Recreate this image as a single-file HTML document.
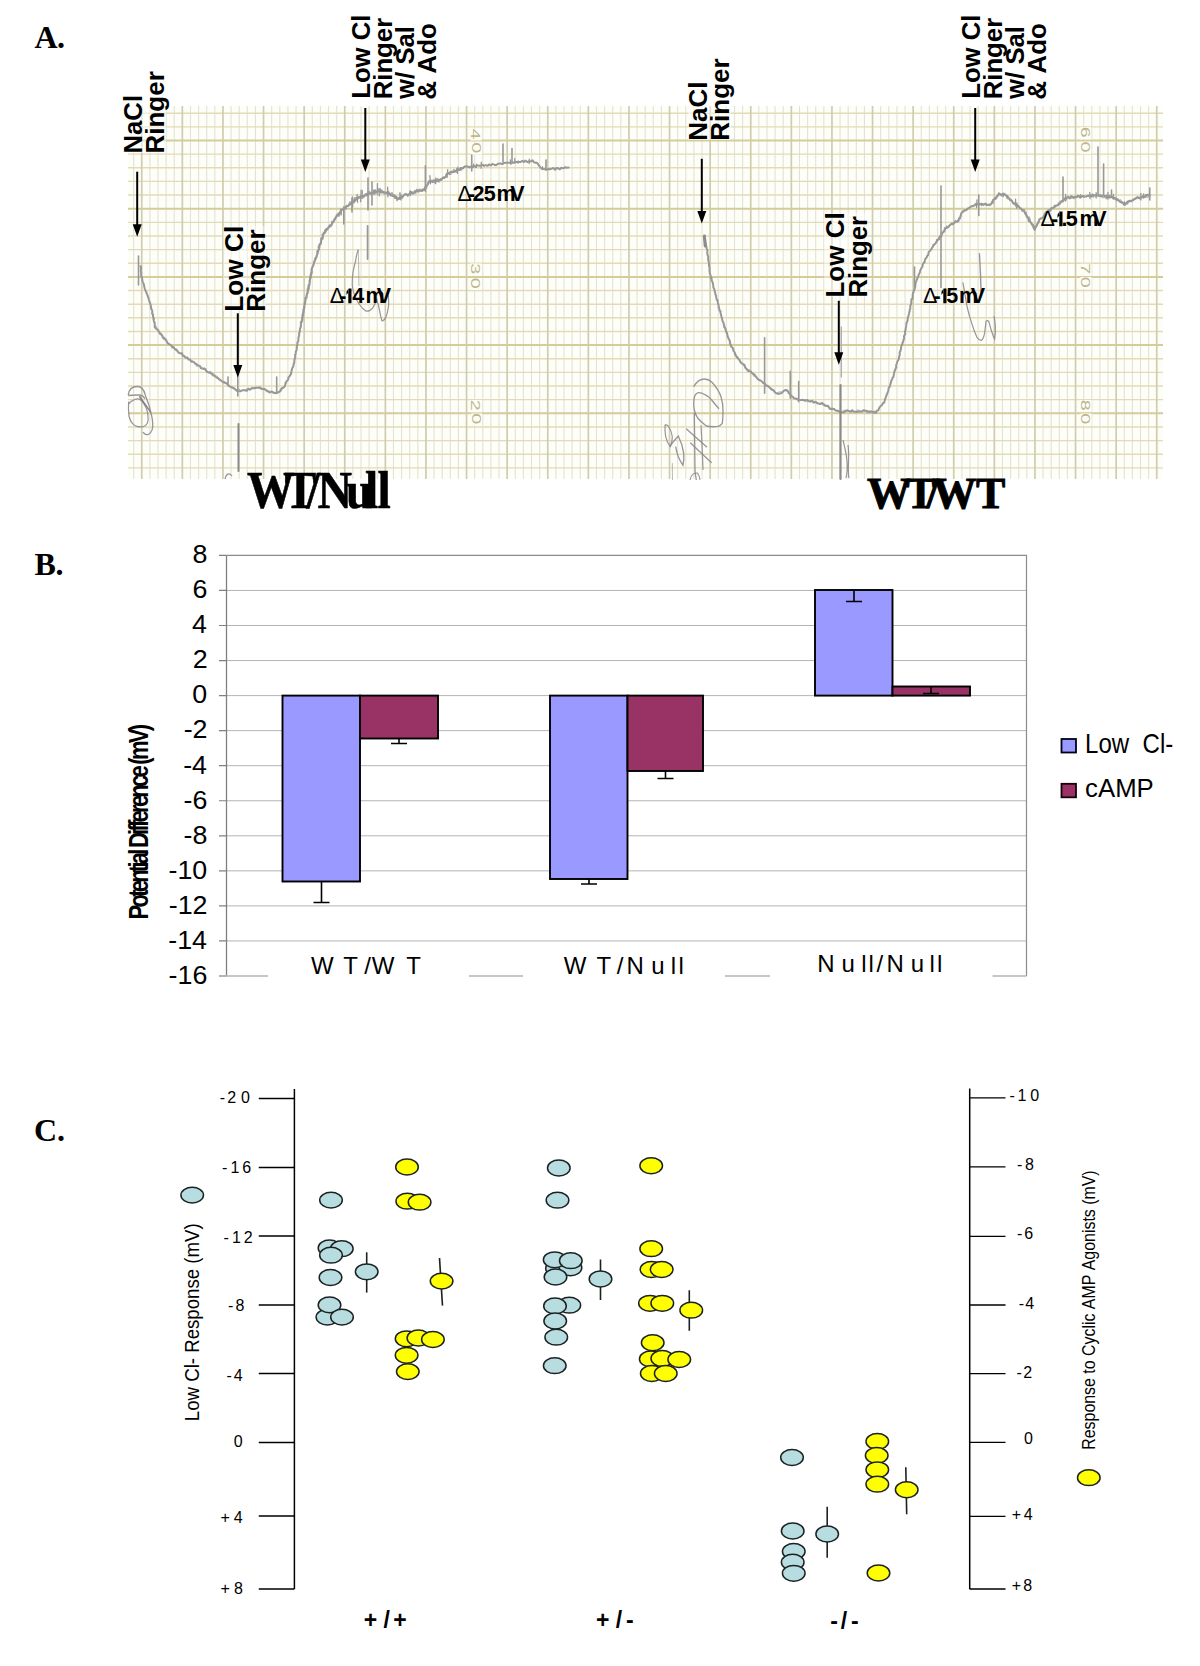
<!DOCTYPE html>
<html><head><meta charset="utf-8"><title>Figure</title>
<style>
html,body{margin:0;padding:0;background:#fff;width:1200px;height:1666px;overflow:hidden;}
svg{display:block;}
</style></head><body>
<svg width="1200" height="1666" viewBox="0 0 1200 1666">
<rect width="1200" height="1666" fill="#fff"/>
<rect x="128" y="106" width="1035" height="373" fill="#fefef8"/>
<path d="M133.63 106V479M149.87 106V479M157.99 106V479M166.11 106V479M174.23 106V479M190.47 106V479M198.59 106V479M206.71 106V479M214.83 106V479M231.07 106V479M239.19 106V479M247.31 106V479M255.43 106V479M271.67 106V479M279.79 106V479M287.91 106V479M296.03 106V479M312.27 106V479M320.39 106V479M328.51 106V479M336.63 106V479M352.87 106V479M360.99 106V479M369.11 106V479M377.23 106V479M393.47 106V479M401.59 106V479M409.71 106V479M417.83 106V479M434.07 106V479M442.19 106V479M450.31 106V479M458.43 106V479M474.67 106V479M482.79 106V479M490.91 106V479M499.03 106V479M515.27 106V479M523.39 106V479M531.51 106V479M539.63 106V479M555.87 106V479M563.99 106V479M572.11 106V479M580.23 106V479M596.47 106V479M604.59 106V479M612.71 106V479M620.83 106V479M637.07 106V479M645.19 106V479M653.31 106V479M661.43 106V479M677.67 106V479M685.79 106V479M693.91 106V479M702.03 106V479M718.27 106V479M726.39 106V479M734.51 106V479M742.63 106V479M758.87 106V479M766.99 106V479M775.11 106V479M783.23 106V479M799.47 106V479M807.59 106V479M815.71 106V479M823.83 106V479M840.07 106V479M848.19 106V479M856.31 106V479M864.43 106V479M880.67 106V479M888.79 106V479M896.91 106V479M905.03 106V479M921.27 106V479M929.39 106V479M937.51 106V479M945.63 106V479M961.87 106V479M969.99 106V479M978.11 106V479M986.23 106V479M1002.47 106V479M1010.59 106V479M1018.71 106V479M1026.83 106V479M1043.07 106V479M1051.19 106V479M1059.31 106V479M1067.43 106V479M1083.67 106V479M1091.79 106V479M1099.91 106V479M1108.03 106V479M1124.27 106V479M1132.39 106V479M1140.51 106V479M1148.63 106V479" stroke="#e3e2d6" stroke-width="1.1" fill="none"/>
<path d="M128 113.22H1163M128 126.86H1163M128 154.14H1163M128 167.78H1163M128 181.42H1163M128 195.06H1163M128 222.34H1163M128 235.98H1163M128 249.62H1163M128 263.26H1163M128 290.54H1163M128 304.18H1163M128 317.82H1163M128 331.46H1163M128 358.74H1163M128 372.38H1163M128 386.02H1163M128 399.66H1163M128 426.94H1163M128 440.58H1163M128 454.22H1163M128 467.86H1163" stroke="#e2dbb5" stroke-width="1.4" fill="none"/>
<path d="M141.75 106V479M182.35 106V479M222.95 106V479M263.55 106V479M304.15 106V479M344.75 106V479M385.35 106V479M425.95 106V479M466.55 106V479M507.15 106V479M547.75 106V479M588.35 106V479M628.95 106V479M669.55 106V479M710.15 106V479M750.75 106V479M791.35 106V479M831.95 106V479M872.55 106V479M913.15 106V479M953.75 106V479M994.35 106V479M1034.95 106V479M1075.55 106V479M1116.15 106V479M1156.75 106V479" stroke="#d0ccb2" stroke-width="1.7" fill="none"/>
<path d="M128 140.5H1163M128 208.7H1163M128 276.9H1163M128 345.1H1163M128 413.3H1163" stroke="#d4cc9a" stroke-width="2.0" fill="none"/>
<rect x="470.5" y="128.5" width="11" height="12" fill="#fefef8"/>
<text transform="translate(471,128.55) rotate(90) scale(1.45,1)" font-size="13.6" fill="#bdb68e" font-family="Liberation Sans, sans-serif">4</text>
<rect x="471" y="142.5" width="11" height="12" fill="#fefef8"/>
<text transform="translate(471.5,142.23) rotate(90) scale(1.45,1)" font-size="13.6" fill="#bdb68e" font-family="Liberation Sans, sans-serif">0</text>
<rect x="470.3" y="263.5" width="11" height="12" fill="#fefef8"/>
<text transform="translate(470.8,263.25) rotate(90) scale(1.45,1)" font-size="13.6" fill="#bdb68e" font-family="Liberation Sans, sans-serif">3</text>
<rect x="470.3" y="278" width="11" height="12" fill="#fefef8"/>
<text transform="translate(470.8,277.73) rotate(90) scale(1.45,1)" font-size="13.6" fill="#bdb68e" font-family="Liberation Sans, sans-serif">0</text>
<rect x="470.8" y="400.2" width="11" height="12" fill="#fefef8"/>
<text transform="translate(471.3,399.71) rotate(90) scale(1.45,1)" font-size="13.6" fill="#bdb68e" font-family="Liberation Sans, sans-serif">2</text>
<rect x="471.2" y="413.5" width="11" height="12" fill="#fefef8"/>
<text transform="translate(471.7,413.23) rotate(90) scale(1.45,1)" font-size="13.6" fill="#bdb68e" font-family="Liberation Sans, sans-serif">0</text>
<rect x="1080.2" y="127.3" width="11" height="12" fill="#fefef8"/>
<text transform="translate(1080.7,126.8) rotate(90) scale(1.45,1)" font-size="13.6" fill="#bdb68e" font-family="Liberation Sans, sans-serif">6</text>
<rect x="1080.2" y="141.8" width="11" height="12" fill="#fefef8"/>
<text transform="translate(1080.7,141.53) rotate(90) scale(1.45,1)" font-size="13.6" fill="#bdb68e" font-family="Liberation Sans, sans-serif">0</text>
<rect x="1080.5" y="263.8" width="11" height="12" fill="#fefef8"/>
<text transform="translate(1081,263.29) rotate(90) scale(1.45,1)" font-size="13.6" fill="#bdb68e" font-family="Liberation Sans, sans-serif">7</text>
<rect x="1080.5" y="277" width="11" height="12" fill="#fefef8"/>
<text transform="translate(1081,276.73) rotate(90) scale(1.45,1)" font-size="13.6" fill="#bdb68e" font-family="Liberation Sans, sans-serif">0</text>
<rect x="1080.5" y="400" width="11" height="12" fill="#fefef8"/>
<text transform="translate(1081,399.64) rotate(90) scale(1.45,1)" font-size="13.6" fill="#bdb68e" font-family="Liberation Sans, sans-serif">8</text>
<rect x="1080.5" y="413.5" width="11" height="12" fill="#fefef8"/>
<text transform="translate(1081,413.23) rotate(90) scale(1.45,1)" font-size="13.6" fill="#bdb68e" font-family="Liberation Sans, sans-serif">0</text>
<path d="M140.46 266.12 L141.03 267.68 L140.88 269.67 L140.81 271.27 L141.35 273.59 L141.11 274.36 L141.3 277.12 L141.97 277.33 L142.39 280.93 L142.72 281.89 L142.93 282.35 L143.82 284.1 L144.15 286.12 L144.62 288.23 L145.52 290.66 L146.16 291.92 L146.71 293.64 L147.25 294.54 L148.26 297.65 L148.7 298.74 L148.85 299.46 L149.26 300.81 L150.07 303.14 L150.57 304.78 L151.09 307.37 L150.75 307.77 L151.91 309.96 L152.39 311.48 L152.1 313.62 L153.09 314.57 L152.97 316.37 L153.95 318.88 L153.56 319.53 L153.83 320.82 L154.67 322.72 L154.76 324.93 L154.75 327.16 L155.7 328.25 L156.69 329.06 L157.77 330.02 L159.38 332.35 L159.84 333.77 L160.81 334.08 L162.36 335.86 L162.79 337.84 L163.92 337.67 L165.41 339.1 L166.06 339.87 L166.93 342.18 L168.09 343.5 L169.54 344.35 L171.35 345.55 L172.38 347.45 L173.41 347.17 L175.33 349.64 L176.18 349.38 L177.96 351.88 L178.91 352.9 L180.84 353.21 L181.85 353.21 L182.93 355.93 L184.43 356.41 L185.79 357.65 L187.4 357.59 L188.4 359.44 L189.66 359.46 L191.39 361.7 L192.77 361.56 L194.35 362.41 L194.97 363.54 L196.66 364.12 L197.9 365.54 L199.68 365.86 L200.97 368.18 L202.92 368.51 L204.15 369.17 L205.25 368.93 L206.69 371.54 L208.78 372.51 L209.78 372.71 L211.69 373.76 L213.13 375.47 L214.51 375.74 L216.61 377.63 L218.19 378.41 L219.56 379.76 L220.53 380.22 L222.3 381.52 L223.23 382.28 L225.27 382.92 L226.75 383.61 L228.39 385.14 L229.66 386.28 L232.07 387.76 L233.53 387.78 L235.21 389.16 L236.65 390.68 L238.52 391 L240.62 391.2 L242.88 390.13 L244.96 390.33 L246.79 390.84 L248.27 388.69 L250.07 389.69 L251.76 388.34 L254.32 388.32 L255.95 387.78 L257.76 387.77 L259.56 387.73 L261.94 389.13 L263.58 388.74 L264.92 389.28 L266.13 390.32 L268.27 391.7 L269.92 392.48 L271.32 391.49 L273.21 392.28 L274.77 393.13 L276.77 392.52 L278.19 392.44 L280.39 390.9 L281.31 388.71 L283.6 387.38 L284.41 386.78 L285.03 385.56 L285.74 382.59 L287.02 380.71 L288.26 379.47 L288.38 377.43 L289.43 376.57 L290.09 375.32 L290.9 374.27 L291.46 371.09 L291.96 369.38 L292.25 368.31 L293.47 366.06 L293.4 364.72 L294.03 363.4 L294.25 362.2 L294.35 360.61 L295.05 357.53 L295.35 357.13 L295 354.92 L295.68 354.17 L295.76 351.81 L296.45 350.6 L296.79 348.27 L296.84 346.08 L297.18 345.64 L297.45 343.77 L297.44 342.47 L298.38 340.95 L298.36 338.91 L298.52 337.49 L299.28 334.7 L299 333.22 L299.71 332.2 L299.99 329.06 L300.58 327.46 L300.91 326.01 L300.87 325.58 L301 322.65 L301.58 322.16 L302.13 320.45 L302.5 318.41 L302.79 315.96 L302.49 315.2 L302.83 313.96 L303.4 311.9 L303.85 310.33 L303.71 308.33 L304.42 307.73 L304.2 305.99 L305.09 303.69 L305.06 301.4 L305.46 300.29 L305.94 297.63 L306.66 296.89 L306.63 295.74 L307.19 293.41 L307.72 290.85 L308.03 289.83 L308.69 289.21 L308.46 286.68 L308.67 284.96 L309.54 284.26 L309.6 281.46 L309.69 280.43 L310.6 277.82 L310.81 275.97 L310.66 274.74 L311.38 273.3 L311.44 272.26 L311.56 270.85 L311.9 268.77 L312.52 266.56 L313.27 265.46 L313.67 263.83 L314.31 261.74 L314.57 261.1 L315.44 259.31 L316.14 257.89 L316.66 255.55 L317.09 255.12 L317.74 252.55 L317.79 252.18 L318.22 250.75 L319.28 247.43 L319.27 247.04 L319.81 244.19 L320.73 243.27 L321.16 241.11 L321.32 240.66 L321.47 238.12 L322.47 237.97 L323.16 234.8 L323.25 234.52 L324.39 233 L325.27 230.4 L326.34 228.96 L327.83 228.54 L328.98 226.44 L329.81 225.18 L331.47 225.38 L332.44 222.25 L332.65 222.62 L333.87 220.9 L334.66 218.96 L335.71 217.55 L336.68 215.37 L337.66 215.69 L338.37 213.77 L339.95 212.52 L340.64 210.9 L342.02 209.46 L343.46 209.89 L344.44 208.86 L345.5 206.81 L346.87 206.01 L348.56 205.61 L349.37 204.82 L351.15 203.56 L352.59 201.81 L354.04 201.76 L355.27 200.53 L356.71 198.81 L358.26 197.36 L359.54 197.37 L360.86 196.36 L362.94 196.11 L364.2 195.97 L366.13 193.98 L367.72 194.05 L369.2 193.3 L371.16 193.42 L372.51 193.27 L374.32 191.41 L375.62 192.45 L376.92 191.39 L378.34 190.59 L380.18 190.66 L381.67 192.53 L383.49 191.99 L385.41 192.37 L387.01 192.77 L388.45 191.9 L389.64 194.16 L390.55 195.4 L392 195.37 L393.36 196.31 L395.07 196.33 L396.7 197.95 L397.72 199.2 L399.18 197.79 L400.99 197.55 L402.28 197.08 L403.87 194.89 L405.41 194.17 L406.93 194.81 L408.7 194.58 L410.57 192.37 L412.34 193.64 L413.19 193.04 L415.06 191.67 L417.08 190.69 L418.3 191.75 L420.04 190.5 L421.82 190.87 L423.1 189.15 L424.7 189.51 L425.3 187.12 L426.5 185.69 L427.37 185.2 L428.32 182.8 L429.37 181.54 L431.11 181.52 L432.87 182.12 L434.24 180.45 L435.33 181.51 L437.46 180.74 L438.7 179.79 L440.55 180.13 L441.79 179.22 L443.24 177.3 L444.15 177.83 L446 176.59 L446.61 173.91 L448.12 173.6 L449.99 172.32 L451.51 171.62 L452.74 172.2 L454.7 171.47 L456.15 170.53 L457.61 169.63 L459.63 169.98 L460.68 167.91 L462.86 168.28 L464.42 166.83 L465.91 166.62 L467.98 166.54 L469.62 167.48 L471 166.5 L472.97 167.14 L474.35 165.94 L475.72 166.85 L477.34 165.17 L479.37 165.87 L481.1 165.4 L482.81 164.85 L484 165.92 L485.53 165.11 L487.68 165.79 L488.96 164.47 L490.66 165.42 L492.3 163.98 L494.21 164.67 L496.02 165.19 L497.65 163.97 L499.2 163.48 L500.45 163.45 L502.58 164.23 L503.66 162.94 L505.39 162.73 L507.03 162.63 L508.48 162.84 L510.58 162.65 L512.23 162.55 L513.31 162.8 L515.49 161.71 L516.42 162.03 L518.58 162.01 L520.66 162.06 L522.28 160.76 L523.82 162.09 L525.19 160.55 L527.46 162.06 L528.68 161.41 L530.47 161.51 L532.62 160.39 L533.78 162.13 L535.52 162.83 L536.92 162.68 L538.5 164.78 L539.24 165.95 L540.55 167.73 L541.83 168.57 L543.45 169.08 L545.16 169.36 L546.83 169.53 L548.62 169.03 L549.96 169.17 L551.87 168.59 L553.25 168.04 L555.19 169.73 L556.59 167.94 L558.14 168.31 L559.9 169.26 L561.4 167.79 L563.13 168.33 L565.35 167.25 L566.46 167.66 L568.5 167.6" stroke="#989898" stroke-width="2.0" fill="none" stroke-linejoin="round" stroke-linecap="round" opacity="1"/>
<path d="M301.15 326.8 L300.39 322.07 L300.87 321.34 L301.17 322.32 L302.01 318.94 L301.5 317.98 L301.69 318.87 L302.14 316.74 L303.24 315.23 L302.47 315.81 L303.83 312.2 L303.4 313.7 L303.5 309.25 L302.94 311.23 L304.48 307.55 L304.21 306.91 L303.97 307.79 L304.86 303.27 L303.93 303.09 L304.77 303.31 L305.68 301.27 L305 298.09 L305.59 297.34 L306.85 297.27 L306.74 298.17 L306.39 294.95 L306.49 294.79 L306.52 293.81 L308.31 292.62 L307.27 288.99 L308.61 287.05 L308.43 287.5 L309.5 286.84 L309.56 284.41 L309.68 283.73 L310.13 281.12 L310.21 280.45 L309.94 280.67 L309.5 280.84 L310 277.36 L309.82 276.16 L310.74 276.78 L310.79 275.48 L310.57 273.01 L311.43 274.35 L312.31 271.79 L311.11 269.39 L312.57 267.59 L312.7 267.38 L312.12 268.54 L313.9 263.9 L313.97 263.08 L313.94 262.99 L314.19 260.91 L314.75 261.17 L314.9 257.93 L316.13 257.31 L316.9 257.15 L316.9 254.95 L317.48 252.71 L316.66 251.53 L317.99 253.04 L317.5 250.51 L319.04 250.16 L318.12 247.36 L318.62 245.72 L319.45 244.31 L320.74 244.68 L320.38 244.43 L321.19 243.97 L320.88 240.59 L321.29 237.98 L321.63 239.77 L323.01 238.94 L322.81 236.92 L322.04 234.48 L322.97 234.66 L323.35 232.5 L324.86 233.35 L326.21 231.61 L325.83 231.33 L327.93 229.41 L327.76 228.24 L328.18 228.22 L330.47 226.39 L330.78 226.84 L330.67 226.36 L332.12 222.03 L331.87 221.19 L333.43 222.13 L333.7 222.11 L334.46 219.02 L334.74 220.22 L335.46 218.87 L336.88 216.31 L337.61 213.96 L339.1 216.28 L339.81 213.67 L339.47 213.76 L340.64 213.19 L341.43 210.88 L343.35 208.28 L343.73 206.91 L343.7 206.48 L346.26 208.93 L346.69 205.43 L347.72 206.59 L348.22 205.22 L349.97 201.96 L349.92 203.22 L350.83 202.14 L352.59 200.47 L353.51 200.14 L354.6 199.72 L355.74 197.69 L356.8 197.44 L358.5 198.85 L358.82 197.44 L360.28 198.07 L361.7 197.76 L362.41 198.24 L364.22 197.04 L364.65 194.6 L366.12 196.08 L367.32 194.1 L368.42 195.46 L369.49 191.41 L371.48 194.82 L372.76 193.18 L374.06 191.58 L375.05 190.24 L375.5 191.59 L377.43 191.06 L377.91 192.06 L379.93 190.25 L380.73 191.13 L381.8 189.88 L384.17 194.03 L384.93 193.78 L385.69 193.71 L386.52 193.64 L388.32 194.53 L388.55 194.73 L389.65 194.3 L392.16 192.64 L391.97 194.64 L393.17 194.3 L395.23 198.3 L395.41 196.98 L396.79 196.31 L396.87 200.75 L398.55 198.41 L400.84 199.93 L401.21 195.95 L402.09 198.51 L404.34 194.72 L405.42 194.83 L405.96 193.44 L407.87 196.48 L407.86 194.5 L409.03 195.2 L409.97 191.4 L412.35 191.93 L413.84 193.99 L414.7 190.37 L415.86 193.51 L416.6 189.35 L417.53 190.08 L419.7 189.33 L420.09 189.24 L422.26 191.41 L423.06 190.58 L425.28 190 L424.79 187.6 L426.69 188.08 L426.22 186.83 L426.56 187.21 L427.85 184.08 L428.68 180.83 L429.48 180.75 L430.09 182.85 L431.04 180.38 L433.45 180.02 L433.84 181.16 L434.91 182.5 L437.56 178.51 L437.87 181.48 L438.96 182.08 L440.4 178.59 L441.49 179.86 L442.13 179.13 L443.86 177.73 L444.36 178.39 L445.66 176.18 L447.12 173.88 L447.8 173.06 L448.49 172.59 L449.33 174.5 L451.08 174.12 L451.24 172.34 L452.35 172.29 L453.98 169.44 L455.28 171.97 L456.38 172.22 L456.82 168.59 L457.67 169.65 L459.54 168.96 L460.38 170.07 L461.18 170.1 L463.19 168.04 L464.71 166.25 L464.9 166.34 L466.04 166.13 L468.39 166.84 L469.5 166.5" stroke="#989898" stroke-width="1.3" fill="none" stroke-linejoin="round" stroke-linecap="round" opacity="0.85"/>
<path d="M153 316.98 L153.06 319.39 L153.45 319.25 L153.71 322.31 L154.86 324.28 L154.15 324.75 L154.83 325.79 L156.6 326.49 L156.99 330.06 L158.62 329.34 L158.94 332.52 L159.41 332.17 L161.54 333.14 L161.94 334.93 L163.02 335.51 L163.55 339.74 L165.52 340.19 L165.88 339.94 L167.33 341.19 L168.25 344.68 L169.47 343.92 L171.6 345.93 L171.73 346.41 L173.85 346.45 L174.8 349.62 L176.85 350.29 L178.26 350.88 L179.01 353.1 L180.38 353.9 L181.55 353.51 L182.9 355.16 L184.21 355.05 L185.61 356.9 L187.07 357.83 L189.29 359.57 L190.46 359.05 L191.19 359.63 L192.92 361.56 L193.73 361.46 L194.95 363.24 L196.56 366.36 L198.44 365.06 L199.44 365.49 L201.64 366.95 L202.88 368.92 L204.52 367.47 L205.31 369.49 L206.55 371.94 L208.4 372.45 L210.18 371.02 L211.56 372.46 L212.37 373.12 L214.34 373.68 L215.24 375.88 L216.8 375.9 L218.26 377.23 L219.61 379.46 L220.2 378.91 L221.69 381.46 L223.18 381.34 L225.11 381.68 L225.71 382.92 L226.96 382.81 L228.05 385.56 L230.08 386.99 L231.95 386.15 L232.9 388.94 L233.66 389.01 L235.57 390.66 L237.17 389.15 L239.02 389.19 L240.91 390.66 L242.34 390.29 L244.58 390.32 L246.42 388.91 L248.34 389.59 L249.81 389.86 L251.67 387.7 L253.8 387.75 L255.55 387.26 L258.16 387.6 L260.06 386.34 L261.56 387.87 L262.72 388.67 L264.28 389.64 L266.53 390.23 L267.78 390.21 L269.14 391.09 L272 392.36 L272.95 393.26 L274.6 393.2 L276.81 393.99 L278.16 392.01 L280.57 391.87 L281.81 390.04 L283.19 388.03 L283.8 387.97 L285.35 385.16 L286.17 382.67 L285.97 382.79 L286.97 380.94 L288 380" stroke="#989898" stroke-width="1.0" fill="none" stroke-linejoin="round" stroke-linecap="round" opacity="0.7"/>
<path d="M704.98 236.3 L704.67 238.13 L705.37 239.82 L705.14 242.11 L705.77 243.18 L706.16 245.68 L706.51 247.3 L706.84 249.39 L707.48 250.07 L707.2 252.85 L707.4 254.19 L707.94 255.81 L708.38 257.77 L707.96 259.04 L708.45 260.61 L708.58 261.73 L709.11 263.91 L708.93 265.02 L709.23 266.56 L709.6 268.13 L709.47 269.7 L709.73 272.65 L709.96 273.82 L710.72 275.56 L710.65 277.91 L711.63 277.86 L711.56 280.34 L712.41 281.68 L712.77 282.98 L713.19 284.7 L713.3 287.14 L714.12 288.86 L714.32 289.62 L714.85 291.6 L715.37 293.53 L715.23 294.25 L716.08 295.54 L716.11 296.68 L716.85 300.11 L717.58 300.07 L717.78 302.21 L718.16 303.74 L718.82 306.5 L718.54 307.53 L719.02 307.76 L719.58 310.71 L720.57 311.07 L720.46 312.45 L721.06 314.94 L721.35 316.17 L722.12 318.8 L722.13 319.48 L722.82 321.81 L723.53 322.63 L723.73 324.52 L724.24 325.29 L724.3 326.76 L725.46 328.59 L725.67 329.87 L726.09 331.21 L726.84 333 L727.45 334.8 L727.69 336.76 L728.36 337.85 L728.67 339 L729.9 341.04 L729.8 342.32 L730.69 345.49 L731.21 346.73 L732.18 347.33 L733.18 348.79 L733.32 350.6 L734.55 352.25 L734.99 354.38 L736.2 355.99 L736.61 357.17 L737.58 357.35 L738.14 358.64 L739.34 359.75 L740.65 362.41 L741.74 363.23 L742.62 363.92 L744.5 364.82 L745.28 367.72 L746.61 368.87 L747.42 370.31 L749.06 371.36 L750.49 371.15 L751.76 372.87 L752.86 373.69 L754.33 374.36 L755.36 375.89 L756.51 377.29 L758.03 379.3 L759.09 380.08 L760.48 380.49 L762.32 381.71 L763.08 382.87 L764.99 383.76 L766.39 385.56 L767.74 385.95 L768.73 386.84 L770.37 388.38 L771.54 389.48 L773.29 390.07 L774.84 392.29 L776.02 393.1 L777.56 393.81 L779.54 393.63 L781.94 392.93 L783.34 391.15 L785.3 390.02 L786.52 390.35 L788.13 391.29 L788.6 393.01 L790.32 394.25 L791.11 396.36 L792.62 396.59 L794.09 398.51 L795.79 398.56 L797 399 L798.19 400.11 L800.15 399.91 L801.83 400.05 L803.31 399.89 L805.18 400.78 L806.81 399.91 L808.6 400.96 L810.27 401.46 L812.25 400.79 L813.57 402.69 L815.47 401.67 L817.15 403.36 L818.56 403.45 L820.02 404.04 L821.99 402.87 L823.67 404.53 L825.15 405.73 L826.44 405.92 L827.99 405.86 L829.3 407.99 L830.2 409.01 L832.05 409.04 L834.06 408.93 L835.27 410.39 L836.79 410.78 L839.05 411.21 L840.29 412.4 L842.47 412.23 L843.91 412.38 L845.79 410.76 L847.14 410.54 L848.56 410.92 L850.91 411.78 L851.99 410.36 L853.88 411.7 L855.74 411.8 L856.97 411.98 L858.75 411.26 L860.96 411.46 L862.09 411.34 L863.94 410.03 L865.56 410.86 L867.48 411.01 L869.14 412.08 L870.49 411.17 L872.58 412.08 L873.82 411.6 L876.15 412.82 L876.74 410.63 L878.3 410.26 L879.14 408.23 L879.85 406.97 L880.77 406.05 L882.04 405.07 L883.08 402.98 L884.21 402.58 L884.64 400.52 L885.11 398.68 L885.71 397.68 L886.27 396.05 L887.15 393.67 L887.91 391.94 L888.32 390.78 L888.65 388.12 L889.19 386.96 L889.76 386.72 L890.21 384.61 L891.07 382.12 L891.42 380.31 L892.37 378.96 L892.55 377.55 L893.43 376.98 L893.81 374.78 L893.98 373.89 L894.41 371.23 L895.08 370.36 L895.76 368 L896.38 367.62 L896.12 365.39 L896.92 363.25 L897.36 361.56 L897.96 360.55 L898.64 359.69 L899.1 356.94 L899.41 355.85 L899.75 354.95 L899.69 352.28 L900.39 351.08 L900.69 350.15 L901.12 347.31 L901.51 345.77 L902.43 343.55 L902.41 343.08 L903.22 341.67 L903.36 340.22 L904.18 338.55 L904.01 336.36 L904.24 335.56 L905.3 334.05 L904.88 331.39 L905.61 330.17 L905.58 329.1 L906.05 326.96 L906.23 325.5 L906.55 322.97 L907.17 321.8 L907.7 320.13 L907.72 318.16 L907.88 317.38 L908.47 315.81 L909.02 313.52 L909.33 312.05 L909.74 311.21 L909.61 309.8 L910.29 308.93 L910.31 305.4 L910.47 305.39 L911.31 303.55 L911.23 301.56 L911.5 299.1 L912.09 299.18 L912.74 297.32 L912.64 294.83 L913.04 292.9 L913.44 292.59 L913.99 290.1 L914.62 289.27 L915.23 287.01 L915.25 286.06 L915.54 283.22 L916.19 281.52 L916.54 280.29 L917.27 278.57 L917.87 277.19 L918.21 276.39 L918.86 274.2 L919.9 272.37 L920.28 270.2 L921.04 269.06 L921.77 267.32 L922.63 266.26 L922.68 264.53 L924.09 262.16 L924.43 262.49 L924.89 260.2 L925.7 258.2 L926.69 257.38 L927.25 255.8 L928.21 254.91 L928.64 252.19 L929.6 251.14 L930.84 250.05 L931.69 248.6 L932.03 247.76 L932.67 246.97 L934.27 244.37 L934.85 244.07 L936.23 242.43 L936.65 241.38 L937.64 239.82 L939.04 239.14 L940.11 236.04 L941.35 235.91 L942.06 232.81 L943.19 232.04 L944.14 231.57 L945.33 228.15 L946.58 227.98 L947.9 226.96 L949.01 226.17 L950.09 225.04 L951.94 223.64 L952.79 224.27 L954.58 222.8 L955.49 221.04 L957 221.81 L958.55 220.84 L959.02 218.33 L960.03 217.68 L960.45 216.25 L961.48 213.06 L962.2 212.26 L963.14 211.86 L964.49 210.63 L965.91 210.06 L967.18 209.23 L968.73 208.17 L970.26 206.94 L971.73 206.2 L973.57 205.79 L974.91 205.15 L976.77 203.97 L978.25 204.21 L980.26 203.91 L981.72 203.72 L983.06 204.71 L985 203.76 L986.28 204.9 L988.21 204.68 L989.95 204.49 L991.17 203.92 L992.58 201.6 L993.36 199.87 L994.7 198.33 L995.47 198.54 L996.38 196.96 L997.93 195.38 L998.87 193.3 L1001.05 194.84 L1002.62 193.82 L1004.29 194.37 L1005.51 195.32 L1007.19 195.84 L1008.66 198.11 L1010.12 200.15 L1011.3 200.38 L1012.86 202.44 L1013.58 203.72 L1015.18 203.53 L1016.05 204.04 L1017.53 205.51 L1018.58 206.51 L1019.71 207.97 L1021.07 208.57 L1022.32 210.02 L1024.05 210.32 L1024.9 213.09 L1025.57 213.86 L1026.53 215.22 L1027.34 217.38 L1028.3 217.44 L1028.59 220.18 L1029.7 221.27 L1030.46 221.98 L1031.43 223.92 L1032.76 224.86 L1033.32 225.93 L1033.92 228.52 L1034.69 229.88 L1035.88 226.64 L1036.82 225.2 L1037.3 223.74 L1038.39 222.62 L1039.05 220.62 L1039.63 219.14 L1040.41 218.86 L1042.46 217.8 L1043.64 216.71 L1044.66 214.01 L1045.95 212.94 L1047.24 211.99 L1048.5 210.4 L1049.95 209.87 L1051.06 208.23 L1052.35 208.22 L1054.02 207.27 L1054.64 205.78 L1056.08 205.62 L1057.85 205.2 L1059.15 204.14 L1060.36 203.19 L1060.97 201.34 L1062.72 200.76 L1064.02 199.65 L1065.56 197.64 L1066.52 198.42 L1067.81 196.59 L1070.17 198.14 L1071.18 196.15 L1073.51 197.33 L1074.95 196.97 L1076.83 197.29 L1077.91 195.67 L1080.24 197.35 L1081.9 196.11 L1083.14 195.88 L1084.52 196.63 L1086.36 196.15 L1088.2 195.55 L1089.96 195.68 L1091.24 196.43 L1092.83 194.86 L1094.53 195.42 L1096.59 195.02 L1097.79 195.56 L1099.56 195.55 L1101.3 196.5 L1103 195.46 L1104.84 195.91 L1106.93 196.85 L1108.73 196.83 L1109.91 197.53 L1111.8 196.69 L1113.68 198.48 L1115.05 198.06 L1116.89 200.17 L1117.88 199.3 L1119.61 201.44 L1120.65 202.3 L1122.09 202.14 L1123.67 203.89 L1124.98 204.89 L1126.11 203.31 L1127.9 201.5 L1129.83 200.71 L1130.76 201.24 L1132.87 200.4 L1133.87 199.46 L1135.29 198.69 L1137.51 197.32 L1138.43 197.95 L1140.61 197.71 L1142.23 196.83 L1143.35 195.83 L1144.84 197.13 L1146.26 195.29 L1148.05 194.68 L1149.75 195.25" stroke="#989898" stroke-width="2.0" fill="none" stroke-linejoin="round" stroke-linecap="round" opacity="1"/>
<path d="M932.72 244.86 L933.23 245.1 L934.61 244.24 L935.71 243.1 L936.75 240.49 L936.49 239.48 L937.39 240.94 L939.06 239.01 L938.73 237.39 L940.1 236.26 L941.14 237.56 L941.37 235.09 L942.64 233.45 L942.41 234.03 L944.26 229.57 L944.66 229.78 L944.35 227.79 L945.57 229.16 L946.66 225.89 L947.71 228 L949.15 226.78 L950.14 224.4 L950.53 224.14 L951.61 223.29 L953.48 222.99 L954.31 223.22 L955.12 221.56 L956.98 221.68 L957.34 220.84 L958.44 219.4 L959.66 217.92 L960.25 219.02 L960.74 215.41 L960.76 217.24 L961.01 213.19 L962.2 212.3 L962.56 210.89 L963.64 210.22 L963.54 211.11 L965.03 210.09 L966.37 210.83 L967.52 208.31 L967.91 208.17 L969.42 207.89 L971.06 206.93 L971.41 206.49 L973.1 206.45 L974.93 204.58 L975.29 203.32 L976.93 203.29 L978.2 205.32 L978.6 205.7 L980.19 203.98 L981.49 205.86 L982.62 204.19 L983.56 205.48 L985.1 203.68 L985.88 203.22 L988.03 205.34 L989.46 205.75 L990.27 205.32 L991.12 204.43 L992.07 201.22 L992.91 200.75 L992.9 202.03 L993.4 199.63 L994.68 199.71 L995.89 199.21 L997.17 197.31 L996.74 196.47 L997.62 196.67 L999.53 193.32 L999.9 194.95 L1002.07 196.25 L1003.23 193.4 L1004.73 193.41 L1006.28 196.22 L1007.13 197.56 L1007.78 198.77 L1008.84 198.11 L1009.44 198.58 L1009.88 198.85 L1011.96 200.06 L1012.72 202.99 L1013.72 202.81 L1014.11 202.68 L1014.86 204.78 L1016.52 206.59 L1016.94 207.29 L1018.72 205.75 L1019.71 207.68 L1020.67 208.99 L1020.7 207.96 L1021.91 209.46 L1022.14 211.56 L1023.8 210.9 L1024.76 211.16 L1024.64 213.41 L1025.36 213.56 L1025.78 213.62 L1026.85 216.39 L1028.37 217.86 L1028.26 218.08 L1028.66 219.38 L1030.37 219.17 L1030.27 222.26 L1031.41 222.85 L1031.89 225.28 L1032.93 223.87 L1033.07 227.61 L1033.72 225.76 L1034.72 226.35 L1034.5 229.18 L1035.24 228.67 L1036.45 226.1 L1037.07 226.16 L1037.55 224.34 L1037.72 221.96 L1038.34 223.89 L1039.5 219.53 L1038.88 219.17 L1040.68 218.88 L1040.76 217.93 L1042.31 218.18 L1042.96 216.94 L1044.26 215.92 L1044.25 215.36 L1045.27 212.1 L1046.66 211.06 L1046.98 211.51 L1048.45 209.58 L1050.15 211.52 L1050.48 209.82 L1051.23 210.49 L1051.95 207.29 L1053.1 208.57 L1054.51 206.18 L1055.35 207.14 L1056.15 206.05 L1057.8 204.06 L1058.31 203.27 L1059.43 202.09 L1060.68 201.68 L1061.22 202.23 L1062.44 200.4 L1064.05 199.59 L1064.32 200.43 L1066.19 199.28 L1066.36 198.12 L1068.07 196.67 L1069.28 198.92 L1070.41 197.81 L1071.32 197.65 L1072.24 197.97 L1073.92 198.63 L1074.86 197.56 L1075.62 196.4 L1077.93 195.73 L1078.94 195.5 L1079.85 198.18 L1080.76 197.81 L1081.77 196.55 L1084.06 197.38 L1084.64 196.42 L1086.31 196.96 L1087.56 196.22 L1088.04 196.6 L1089.69 195.95 L1091.5 194.4 L1092.4 195 L1093.53 197.18 L1094.08 195.72 L1095.64 195.39 L1096.32 195.78 L1098.57 195.84 L1098.91 196.52 L1100.31 194.32 L1101.79 195.63 L1102.89 197.71 L1104.16 197.75 L1105.06 197.22 L1105.87 195.74 L1107.97 197.32 L1109.38 196.38 L1109.79 196.47 L1111.38 195.44 L1112.36 197.89 L1113.24 196.82 L1115.41 199.74 L1115.64 197.69 L1116.57 198.03 L1118.67 201.06 L1119.04 200.84 L1120.78 199.85 L1122.08 203.52 L1122.33 203.63 L1124.16 202.99 L1125.54 203.24 L1126.09 202.87 L1127.17 203.96 L1128.48 202.52 L1130.2 200.43 L1130.23 201.15 L1131.25 201.68 L1132.65 199.09 L1133.9 199.78 L1135.81 198.98 L1135.95 197.56 L1137.93 196.8 L1139.4 198.91 L1139.66 196.82 L1140.88 197.84 L1141.83 197.5 L1143.06 197.77 L1144.97 196.58 L1145.53 194.38 L1147.12 197.51 L1148.68 196.81 L1149.75 195.25" stroke="#989898" stroke-width="1.2" fill="none" stroke-linejoin="round" stroke-linecap="round" opacity="0.8"/>
<path d="M723.48 324.81 L723.94 328.01 L724.64 328.16 L725.75 330.86 L725.85 331.59 L726.32 333.3 L726.92 334.12 L727.31 335.34 L727.84 335.93 L728.41 339.08 L728.88 339.07 L730.08 341.56 L730.2 342.51 L731.16 345.26 L731.52 346.33 L732.27 347.2 L732.61 348.22 L733.38 349.81 L734.08 351.35 L735.07 353.78 L735.06 352.52 L735.82 353.9 L737.09 357.01 L737.14 357.07 L738.85 360.18 L739.64 360.92 L740.72 361.37 L741.32 362.84 L742.91 365.32 L743.96 366.03 L743.96 365.43 L746.05 367.49 L746.51 367.96 L747.93 369.75 L749.26 369.44 L750.43 370.26 L750.59 372.4 L752.35 372.57 L753.42 376.07 L754.44 376.55 L755.8 377.02 L756.47 377.67 L758.51 379.31 L758.86 379.64 L760.45 380.28 L761.69 382.14 L762.22 381.87 L764.19 382.83 L764.69 385.44 L766.2 387 L767.67 385.4 L769.03 386.72 L770.5 388.95 L771.7 387.78 L772.09 390.84 L773.48 389.89 L774.61 390.62 L776.41 393.84 L777.49 392.58 L780.24 391.7 L782.16 392.35 L784.09 389.96 L785.21 390.32 L787.09 389.26 L787.82 390.38 L788.41 394.05 L788.97 393.3 L790.64 395.8 L790.48 395.66 L792.18 396.54 L794.41 398.33 L796.08 398.81 L797.15 398.52 L798.76 399.41 L799.47 399.98 L801.37 400.28 L802.48 398.96 L805.11 400.18 L805.84 399.7 L807.67 402.19 L808.68 401.13 L810.58 402.12 L812.17 400.73 L813.23 402.37 L814.77 403.13 L816.4 401.45 L818.6 403.75 L820.46 403.8 L822.31 404.07 L822.86 405.21 L824.38 404.05 L825.65 404.49 L828.05 406.38 L828.5 406.21 L830.82 408.7 L832.34 407.5 L832.82 408.73 L834.36 408.69 L835.81 410.76 L837.22 409.83 L839.1 410.94 L840.08 412 L842.2 411.35 L843.84 410.19 L845.7 410.54 L847.05 409.87 L849.39 411.49 L850.48 411.24 L852.83 409.9 L853.83 411.62 L855.49 411.62 L857.8 409.62 L858.73 410.38 L860.96 411.85 L862.57 412.27 L863.62 410.68 L866.11 412.03 L866.91 412.9 L869.35 412.78 L870.58 412.23 L872.98 413.34 L874.21 413.54 L875.8 412.6" stroke="#989898" stroke-width="1.0" fill="none" stroke-linejoin="round" stroke-linecap="round" opacity="0.7"/>
<path d="M429.9 175.63 L430.46 183.75" stroke="#989898" stroke-width="1.3" fill="none" stroke-linejoin="round" stroke-linecap="round" opacity="1"/>
<path d="M373.35 190.17 L373.69 193.88" stroke="#989898" stroke-width="1.3" fill="none" stroke-linejoin="round" stroke-linecap="round" opacity="1"/>
<path d="M394.73 194.97 L394.86 198.22" stroke="#989898" stroke-width="1.3" fill="none" stroke-linejoin="round" stroke-linecap="round" opacity="1"/>
<path d="M377.51 183.56 L377.23 194.55" stroke="#989898" stroke-width="1.3" fill="none" stroke-linejoin="round" stroke-linecap="round" opacity="1"/>
<path d="M400.91 194.44 L400.55 199.01" stroke="#989898" stroke-width="1.3" fill="none" stroke-linejoin="round" stroke-linecap="round" opacity="1"/>
<path d="M367.25 193.39 L366.65 194.73" stroke="#989898" stroke-width="1.3" fill="none" stroke-linejoin="round" stroke-linecap="round" opacity="1"/>
<path d="M361.14 190.03 L360.62 201.69" stroke="#989898" stroke-width="1.3" fill="none" stroke-linejoin="round" stroke-linecap="round" opacity="1"/>
<path d="M357.08 194.38 L357.51 202.3" stroke="#989898" stroke-width="1.3" fill="none" stroke-linejoin="round" stroke-linecap="round" opacity="1"/>
<path d="M374.99 189.66 L374.76 194.52" stroke="#989898" stroke-width="1.3" fill="none" stroke-linejoin="round" stroke-linecap="round" opacity="1"/>
<path d="M378.98 188.48 L379.32 195.89" stroke="#989898" stroke-width="1.3" fill="none" stroke-linejoin="round" stroke-linecap="round" opacity="1"/>
<path d="M354.29 197.98 L353.73 203.17" stroke="#989898" stroke-width="1.3" fill="none" stroke-linejoin="round" stroke-linecap="round" opacity="1"/>
<path d="M352.41 196.96 L352.62 206.81" stroke="#989898" stroke-width="1.3" fill="none" stroke-linejoin="round" stroke-linecap="round" opacity="1"/>
<path d="M340.53 211.05 L340.49 213.57" stroke="#989898" stroke-width="1.3" fill="none" stroke-linejoin="round" stroke-linecap="round" opacity="1"/>
<path d="M399.96 192.64 L399.81 199.38" stroke="#989898" stroke-width="1.3" fill="none" stroke-linejoin="round" stroke-linecap="round" opacity="1"/>
<path d="M395.95 196.85 L395.39 198.46" stroke="#989898" stroke-width="1.3" fill="none" stroke-linejoin="round" stroke-linecap="round" opacity="1"/>
<path d="M341.07 209.16 L341.19 214.89" stroke="#989898" stroke-width="1.3" fill="none" stroke-linejoin="round" stroke-linecap="round" opacity="1"/>
<path d="M367.72 191.69 L367.99 195.71" stroke="#989898" stroke-width="1.3" fill="none" stroke-linejoin="round" stroke-linecap="round" opacity="1"/>
<path d="M387.64 187.17 L387.85 196.83" stroke="#989898" stroke-width="1.3" fill="none" stroke-linejoin="round" stroke-linecap="round" opacity="1"/>
<path d="M362.26 190.63 L362.23 197.67" stroke="#989898" stroke-width="1.3" fill="none" stroke-linejoin="round" stroke-linecap="round" opacity="1"/>
<path d="M380.26 188.68 L380.27 193.2" stroke="#989898" stroke-width="1.3" fill="none" stroke-linejoin="round" stroke-linecap="round" opacity="1"/>
<path d="M340.58 209.76 L340.8 213.91" stroke="#989898" stroke-width="1.3" fill="none" stroke-linejoin="round" stroke-linecap="round" opacity="1"/>
<path d="M410.31 190.79 L410.32 195.71" stroke="#989898" stroke-width="1.3" fill="none" stroke-linejoin="round" stroke-linecap="round" opacity="1"/>
<path d="M481.29 162.15 L481.17 168.28" stroke="#989898" stroke-width="1.3" fill="none" stroke-linejoin="round" stroke-linecap="round" opacity="1"/>
<path d="M476.46 164.08 L476.34 167.51" stroke="#989898" stroke-width="1.3" fill="none" stroke-linejoin="round" stroke-linecap="round" opacity="1"/>
<path d="M518.13 160.85 L518.04 163.21" stroke="#989898" stroke-width="1.3" fill="none" stroke-linejoin="round" stroke-linecap="round" opacity="1"/>
<path d="M529.27 159.21 L529.11 163.56" stroke="#989898" stroke-width="1.3" fill="none" stroke-linejoin="round" stroke-linecap="round" opacity="1"/>
<path d="M457.72 168.11 L457.7 170.53" stroke="#989898" stroke-width="1.3" fill="none" stroke-linejoin="round" stroke-linecap="round" opacity="1"/>
<path d="M447.68 169.65 L447.16 177.23" stroke="#989898" stroke-width="1.3" fill="none" stroke-linejoin="round" stroke-linecap="round" opacity="1"/>
<path d="M457.8 167.22 L457.26 172.48" stroke="#989898" stroke-width="1.3" fill="none" stroke-linejoin="round" stroke-linecap="round" opacity="1"/>
<path d="M473.58 164.07 L473.11 166.81" stroke="#989898" stroke-width="1.3" fill="none" stroke-linejoin="round" stroke-linecap="round" opacity="1"/>
<path d="M514.76 158.57 L515.11 163.36" stroke="#989898" stroke-width="1.3" fill="none" stroke-linejoin="round" stroke-linecap="round" opacity="1"/>
<path d="M435.87 177.92 L435.63 183.6" stroke="#989898" stroke-width="1.3" fill="none" stroke-linejoin="round" stroke-linecap="round" opacity="1"/>
<path d="M457.1 168.63 L457.61 173.32" stroke="#989898" stroke-width="1.3" fill="none" stroke-linejoin="round" stroke-linecap="round" opacity="1"/>
<path d="M510.35 159.92 L510.83 164.53" stroke="#989898" stroke-width="1.3" fill="none" stroke-linejoin="round" stroke-linecap="round" opacity="1"/>
<path d="M435.3 179.18 L435.35 183.49" stroke="#989898" stroke-width="1.3" fill="none" stroke-linejoin="round" stroke-linecap="round" opacity="1"/>
<path d="M542.44 166.69 L542.22 169.6" stroke="#989898" stroke-width="1.3" fill="none" stroke-linejoin="round" stroke-linecap="round" opacity="1"/>
<path d="M1096.18 192.67 L1096.09 198.13" stroke="#989898" stroke-width="1.3" fill="none" stroke-linejoin="round" stroke-linecap="round" opacity="1"/>
<path d="M1092.79 194.11 L1092.31 196.68" stroke="#989898" stroke-width="1.3" fill="none" stroke-linejoin="round" stroke-linecap="round" opacity="1"/>
<path d="M1113.54 194.48 L1113.38 199" stroke="#989898" stroke-width="1.3" fill="none" stroke-linejoin="round" stroke-linecap="round" opacity="1"/>
<path d="M976.97 199.98 L976.52 207.5" stroke="#989898" stroke-width="1.3" fill="none" stroke-linejoin="round" stroke-linecap="round" opacity="1"/>
<path d="M1065.56 194.47 L1065.69 201.05" stroke="#989898" stroke-width="1.3" fill="none" stroke-linejoin="round" stroke-linecap="round" opacity="1"/>
<path d="M1143.63 193.82 L1143.48 198.02" stroke="#989898" stroke-width="1.3" fill="none" stroke-linejoin="round" stroke-linecap="round" opacity="1"/>
<path d="M1016.89 203 L1016.71 208.37" stroke="#989898" stroke-width="1.3" fill="none" stroke-linejoin="round" stroke-linecap="round" opacity="1"/>
<path d="M1107.94 192.48 L1107.81 199.12" stroke="#989898" stroke-width="1.3" fill="none" stroke-linejoin="round" stroke-linecap="round" opacity="1"/>
<path d="M992.76 199.9 L993.12 203.26" stroke="#989898" stroke-width="1.3" fill="none" stroke-linejoin="round" stroke-linecap="round" opacity="1"/>
<path d="M1003.57 193.5 L1003.14 196.67" stroke="#989898" stroke-width="1.3" fill="none" stroke-linejoin="round" stroke-linecap="round" opacity="1"/>
<path d="M1127.33 201.67 L1127.64 203.52" stroke="#989898" stroke-width="1.3" fill="none" stroke-linejoin="round" stroke-linecap="round" opacity="1"/>
<path d="M1124.31 201.68 L1123.96 205.02" stroke="#989898" stroke-width="1.3" fill="none" stroke-linejoin="round" stroke-linecap="round" opacity="1"/>
<path d="M1029.15 217.12 L1028.59 221.26" stroke="#989898" stroke-width="1.3" fill="none" stroke-linejoin="round" stroke-linecap="round" opacity="1"/>
<path d="M1108.54 195.32 L1108.08 197.54" stroke="#989898" stroke-width="1.3" fill="none" stroke-linejoin="round" stroke-linecap="round" opacity="1"/>
<path d="M1106.35 195.07 L1106.3 198.65" stroke="#989898" stroke-width="1.3" fill="none" stroke-linejoin="round" stroke-linecap="round" opacity="1"/>
<path d="M1007.07 195.3 L1006.89 198.04" stroke="#989898" stroke-width="1.3" fill="none" stroke-linejoin="round" stroke-linecap="round" opacity="1"/>
<path d="M1015.55 199.27 L1015.63 205.93" stroke="#989898" stroke-width="1.3" fill="none" stroke-linejoin="round" stroke-linecap="round" opacity="1"/>
<path d="M1109.64 195.28 L1109.16 197.49" stroke="#989898" stroke-width="1.3" fill="none" stroke-linejoin="round" stroke-linecap="round" opacity="1"/>
<path d="M1026.22 212.34 L1026.31 216.65" stroke="#989898" stroke-width="1.3" fill="none" stroke-linejoin="round" stroke-linecap="round" opacity="1"/>
<path d="M1140.87 193.36 L1140.84 200.1" stroke="#989898" stroke-width="1.3" fill="none" stroke-linejoin="round" stroke-linecap="round" opacity="1"/>
<path d="M1080.57 194.6 L1080.46 197.57" stroke="#989898" stroke-width="1.3" fill="none" stroke-linejoin="round" stroke-linecap="round" opacity="1"/>
<path d="M1089.76 192.45 L1090.11 198.69" stroke="#989898" stroke-width="1.3" fill="none" stroke-linejoin="round" stroke-linecap="round" opacity="1"/>
<path d="M138.5 256 L138.5 285" stroke="#989898" stroke-width="1.6" fill="none" stroke-linejoin="round" stroke-linecap="round" opacity="1"/>
<path d="M228 377 L228 386" stroke="#989898" stroke-width="1.6" fill="none" stroke-linejoin="round" stroke-linecap="round" opacity="1"/>
<path d="M237.8 374 L237.8 396" stroke="#989898" stroke-width="1.6" fill="none" stroke-linejoin="round" stroke-linecap="round" opacity="1"/>
<path d="M276.7 377 L276.7 393" stroke="#989898" stroke-width="1.6" fill="none" stroke-linejoin="round" stroke-linecap="round" opacity="1"/>
<path d="M343.8 210 L343.8 224" stroke="#989898" stroke-width="1.6" fill="none" stroke-linejoin="round" stroke-linecap="round" opacity="1"/>
<path d="M352 198 L352 212" stroke="#989898" stroke-width="1.6" fill="none" stroke-linejoin="round" stroke-linecap="round" opacity="1"/>
<path d="M368 178 L368 210" stroke="#989898" stroke-width="1.6" fill="none" stroke-linejoin="round" stroke-linecap="round" opacity="1"/>
<path d="M372 182 L372 205" stroke="#989898" stroke-width="1.6" fill="none" stroke-linejoin="round" stroke-linecap="round" opacity="1"/>
<path d="M425.4 165.8 L425.4 191.2" stroke="#989898" stroke-width="1.6" fill="none" stroke-linejoin="round" stroke-linecap="round" opacity="1"/>
<path d="M471.75 155 L471.75 171" stroke="#989898" stroke-width="1.6" fill="none" stroke-linejoin="round" stroke-linecap="round" opacity="1"/>
<path d="M503 144 L503 162" stroke="#989898" stroke-width="1.6" fill="none" stroke-linejoin="round" stroke-linecap="round" opacity="1"/>
<path d="M512 148.5 L512 162" stroke="#989898" stroke-width="1.6" fill="none" stroke-linejoin="round" stroke-linecap="round" opacity="1"/>
<path d="M546 160 L546 170" stroke="#989898" stroke-width="1.6" fill="none" stroke-linejoin="round" stroke-linecap="round" opacity="1"/>
<path d="M764.6 337.8 L764.6 393.3" stroke="#989898" stroke-width="1.6" fill="none" stroke-linejoin="round" stroke-linecap="round" opacity="1"/>
<path d="M790.3 371.4 L790.3 398.3" stroke="#989898" stroke-width="1.6" fill="none" stroke-linejoin="round" stroke-linecap="round" opacity="1"/>
<path d="M798.7 381.5 L798.7 401.7" stroke="#989898" stroke-width="1.6" fill="none" stroke-linejoin="round" stroke-linecap="round" opacity="1"/>
<path d="M914.5 267 L914.5 287" stroke="#989898" stroke-width="1.6" fill="none" stroke-linejoin="round" stroke-linecap="round" opacity="1"/>
<path d="M941 186 L941 287.5" stroke="#989898" stroke-width="1.6" fill="none" stroke-linejoin="round" stroke-linecap="round" opacity="1"/>
<path d="M978.75 195 L978.75 215.5" stroke="#989898" stroke-width="1.6" fill="none" stroke-linejoin="round" stroke-linecap="round" opacity="1"/>
<path d="M1063 177 L1063 202" stroke="#989898" stroke-width="1.6" fill="none" stroke-linejoin="round" stroke-linecap="round" opacity="1"/>
<path d="M1098 147 L1098 195" stroke="#989898" stroke-width="1.6" fill="none" stroke-linejoin="round" stroke-linecap="round" opacity="1"/>
<path d="M1103.6 164 L1103.6 195" stroke="#989898" stroke-width="1.6" fill="none" stroke-linejoin="round" stroke-linecap="round" opacity="1"/>
<path d="M1111.5 190 L1111.5 197.5" stroke="#989898" stroke-width="1.6" fill="none" stroke-linejoin="round" stroke-linecap="round" opacity="1"/>
<path d="M1149.75 188 L1149.75 200" stroke="#989898" stroke-width="1.6" fill="none" stroke-linejoin="round" stroke-linecap="round" opacity="1"/>
<path d="M367.6 226 L367.6 259" stroke="#989898" stroke-width="1.8" fill="none" stroke-linejoin="round" stroke-linecap="round" opacity="1"/>
<path d="M704.3 236 L705.2 246" stroke="#8c8c8c" stroke-width="3.0" fill="none" stroke-linejoin="round" stroke-linecap="round" opacity="1"/>
<path d="M238.5 424 L238.5 471" stroke="#8a8a8a" stroke-width="2.0" fill="none" stroke-linejoin="round" stroke-linecap="round" opacity="1"/>
<path d="M840.5 385 L840.5 479" stroke="#8a8a8a" stroke-width="2.2" fill="none" stroke-linejoin="round" stroke-linecap="round" opacity="1"/>
<path d="M841.3 327 L841.3 377" stroke="#b0b0b0" stroke-width="1.4" fill="none" stroke-linejoin="round" stroke-linecap="round" opacity="1"/>
<path d="M128.2 395.1 C129 389 133 386.3 137.6 386.5 C141 386.6 144 390 145.1 394.4 C147 401 150 406 150.2 410.6 C152 416 153 422 152.7 426.8 C152.5 432 149 435 146.6 434.7 C144.5 434.5 143.5 433 143 432.2" stroke="#8e8890" stroke-width="1.3" fill="none" opacity="0.9"/>
<path d="M128.2 395.5 C132 395 137 394.8 140.1 395.1 C142.5 395.5 144 397 145.1 398.7" stroke="#8e8890" stroke-width="1.5" fill="none" opacity="0.9"/>
<path d="M128.6 401.6 C128.3 407 128.5 412 129 416 C130 420 131 422 132.2 423.2 C134 425.5 135.5 426.3 136.9 426.4 C139 426.9 141 427 143 426.8 C145 426 146.5 424.8 147.3 423.2 C148.2 421 148.3 418 148 416 C147.5 411 146.5 408 145.1 405.9 C143.5 402.5 141.5 400 139.4 399.1 C137 398.5 135 399.3 133.6 400.1 C131 401 129.5 402.5 128.8 404" stroke="#8e8890" stroke-width="1.2" fill="none" opacity="0.9"/>
<path d="M139.4 396.2 C143 402 148 408 150.9 412.4" stroke="#7c7680" stroke-width="1.6" fill="none" opacity="0.9"/>
<path d="M358.2 249.7 C356.5 254 356 258 355.6 261 C354.5 265 353.5 269 352.9 272.8 C352.3 277 352.2 282 352.3 286 C352.8 290 353.8 293.5 354.9 295.9 C356.5 299.5 358 302.5 359.5 304.5 C361.5 307.5 363.8 310 366.1 311.1 C368.5 311.5 371 310 372.7 307.8 C374.5 305.5 375.8 302 376.7 299.2 C377.8 302.5 378.6 306 379.3 309.1 C380 313 381 318 382 321 C383.5 321 385 319 385.9 317 C387.3 313.5 388.2 309.5 388.6 305.8 C388.8 301 388.5 296 387.9 292.6" stroke="#8e8890" stroke-width="1.2" fill="none" opacity="0.9"/>
<path d="M358.2 249.7 C358.6 262 358.9 275 358.9 286" stroke="#8e8890" stroke-width="1.0" fill="none" opacity="0.6"/>
<path d="M693.7 386.7 C697 381 700.5 379 704.3 379 C707 379 709.5 380 711.7 382 C715.5 386 719 391 721 396.7 C722.5 401.5 723.2 406.5 723 411.3 C722.9 416 722.8 420 722.3 423.3 C720.5 425.8 718 426.6 715 426.7 C712 426.8 709 426.6 706.3 426 C703 423.5 700 421 697.7 418 C696 415.5 695 413 694.3 410 C693.8 407 693.6 404.5 693.7 402 C693.9 399.5 694.3 397 695 395.3 C696 393.7 697 393 698.3 392.7 C700.5 392.5 703 393.5 705 394.7 C707.5 396 710 398 711.7 400 C714 403 716.5 406 719 408.7" stroke="#8e8890" stroke-width="1.3" fill="none" opacity="0.9"/>
<path d="M694.3 412.7 C694.5 430 694.8 450 695 470 C695.3 474 695.8 477 696.3 480" stroke="#8e8890" stroke-width="1.3" fill="none" opacity="0.9"/>
<path d="M701 425.3 C701.8 440 702.5 455 703 470" stroke="#8e8890" stroke-width="1.2" fill="none" opacity="0.9"/>
<path d="M686.3 428.7 C693 435 700 441 707 447.3" stroke="#8e8890" stroke-width="1.3" fill="none" opacity="0.9"/>
<path d="M690.3 442.7 C697 449 704 456 711.7 462.7" stroke="#8e8890" stroke-width="1.3" fill="none" opacity="0.9"/>
<path d="M665 424.7 C666.5 425 667.5 425.5 668.3 426 C670.5 429.5 672 433 672.3 436.7 C672.5 440 671.5 443.5 670.3 446.7 C668 444 666.5 440.5 665.7 436.7 C665 432.5 664.8 428.5 665 424.7" stroke="#8e8890" stroke-width="1.2" fill="none" opacity="0.9"/>
<path d="M669.7 446.7 C672.5 442.5 675.5 439 678.3 436 C681 441.5 683 447.5 683.7 453.3 C684 457.5 683.8 461.5 683 465.3 C681 462.5 679.5 459.5 678.3 456.7 C677 453.5 676.2 450 675.7 446.7" stroke="#8e8890" stroke-width="1.3" fill="none" opacity="0.9"/>
<path d="M690 480 C691 475 694 472.5 697 473 C698.5 474 699.5 476.5 700 480" stroke="#8e8890" stroke-width="1.1" fill="none" opacity="0.9"/>
<path d="M672.3 463 C672.4 470 672.4 475 672.5 480" stroke="#8e8890" stroke-width="1.0" fill="none" opacity="0.6"/>
<path d="M979.4 253.2 C980.2 266 980.8 280 981.1 292.8" stroke="#8e8890" stroke-width="1.4" fill="none" opacity="0.9"/>
<path d="M962.9 282.3 C964.3 290 965.6 298 966.9 306 C968.3 312 969.8 317.5 971.5 322.6 C973.2 328 975 333 976.8 337.1 C978.3 339.3 979.8 340.5 981.4 340.4 C983 339.3 984.1 336 984.7 332.5 C985.3 328.5 985.6 324.5 986 321.2 C987 320.5 988 320.6 988.7 321.2 C989.8 325 990.8 329 992 332.5 C992.8 335 993.7 337.5 994.6 339.1 C995.3 335 995.5 330 995.3 325.9 C995 322 994.6 319 994 316" stroke="#8e8890" stroke-width="1.2" fill="none" opacity="0.9"/>
<path d="M843 440 C846 452 849 465 846 478 M848 445 C850 456 847 470 849 478" stroke="#8e8890" stroke-width="1.2" fill="none" opacity="0.9"/>
<path d="M225 479 C226 474 229 472 232 476" stroke="#8e8890" stroke-width="1.2" fill="none" opacity="0.9"/>
<rect x="128" y="106" width="13.5" height="47" fill="#fff" opacity="0.85"/>
<rect x="141.5" y="106" width="24.5" height="47" fill="#fff" opacity="0.45"/>
<rect x="688" y="106" width="43" height="34" fill="#fff" opacity="0.45"/>
<rect x="223" y="226" width="43" height="85" fill="#fff" opacity="0.4"/>
<rect x="824" y="213" width="44" height="84" fill="#fff" opacity="0.4"/>
<text transform="translate(141.7,153.52) rotate(-90) scale(0.99,1)" font-family="Liberation Sans, sans-serif" font-size="26" font-weight="bold" fill="#000">NaCl</text>
<text transform="translate(164,153.53) rotate(-90) scale(1,1)" font-family="Liberation Sans, sans-serif" font-size="26" font-weight="bold" fill="#000">Ringer</text>
<text transform="translate(242.5,311.76) rotate(-90) scale(1.01,1)" font-family="Liberation Sans, sans-serif" font-size="26" font-weight="bold" fill="#000">Low&#160;Cl</text>
<text transform="translate(264.5,311.73) rotate(-90) scale(1,1)" font-family="Liberation Sans, sans-serif" font-size="26" font-weight="bold" fill="#000">Ringer</text>
<text transform="translate(369.8,98.82) rotate(-90) scale(0.99,1)" font-family="Liberation Sans, sans-serif" font-size="26" font-weight="bold" fill="#000">Low&#160;Cl</text>
<text transform="translate(391.8,99.33) rotate(-90) scale(0.99,1)" font-family="Liberation Sans, sans-serif" font-size="26" font-weight="bold" fill="#000">Ringer</text>
<text transform="translate(413.8,98.92) rotate(-90) scale(0.99,1)" font-family="Liberation Sans, sans-serif" font-size="26" font-weight="bold" fill="#000">w/&#160;Sal</text>
<text transform="translate(435.8,99.64) rotate(-90) scale(1,1)" font-family="Liberation Sans, sans-serif" font-size="26" font-weight="bold" fill="#000">&amp;&#160;Ado</text>
<text transform="translate(706.6,140.74) rotate(-90) scale(1,1)" font-family="Liberation Sans, sans-serif" font-size="26" font-weight="bold" fill="#000">NaCl</text>
<text transform="translate(728.8,140.74) rotate(-90) scale(1,1)" font-family="Liberation Sans, sans-serif" font-size="26" font-weight="bold" fill="#000">Ringer</text>
<text transform="translate(843.9,297.54) rotate(-90) scale(1,1)" font-family="Liberation Sans, sans-serif" font-size="26" font-weight="bold" fill="#000">Low&#160;Cl</text>
<text transform="translate(866.6,297.53) rotate(-90) scale(0.99,1)" font-family="Liberation Sans, sans-serif" font-size="26" font-weight="bold" fill="#000">Ringer</text>
<text transform="translate(979.8,98.82) rotate(-90) scale(0.99,1)" font-family="Liberation Sans, sans-serif" font-size="26" font-weight="bold" fill="#000">Low&#160;Cl</text>
<text transform="translate(1001.8,99.33) rotate(-90) scale(0.99,1)" font-family="Liberation Sans, sans-serif" font-size="26" font-weight="bold" fill="#000">Ringer</text>
<text transform="translate(1023.8,98.92) rotate(-90) scale(0.99,1)" font-family="Liberation Sans, sans-serif" font-size="26" font-weight="bold" fill="#000">w/&#160;Sal</text>
<text transform="translate(1045.8,99.64) rotate(-90) scale(1,1)" font-family="Liberation Sans, sans-serif" font-size="26" font-weight="bold" fill="#000">&amp;&#160;Ado</text>
<path d="M137.2 171.7V225.2" stroke="#000" stroke-width="2"/>
<path d="M132.7 224.2L141.7 224.2L137.2 236.7Z" fill="#000"/>
<path d="M237.8 313.3V366" stroke="#000" stroke-width="2"/>
<path d="M233.3 365L242.3 365L237.8 377.5Z" fill="#000"/>
<path d="M365.3 108V160.5" stroke="#000" stroke-width="2"/>
<path d="M360.8 159.5L369.8 159.5L365.3 172Z" fill="#000"/>
<path d="M701.8 158.8V212.1" stroke="#000" stroke-width="2"/>
<path d="M697.3 211.1L706.3 211.1L701.8 223.6Z" fill="#000"/>
<path d="M838.8 300.8V353.2" stroke="#000" stroke-width="2"/>
<path d="M834.3 352.2L843.3 352.2L838.8 364.7Z" fill="#000"/>
<path d="M975.2 108V160.5" stroke="#000" stroke-width="2"/>
<path d="M970.7 159.5L979.7 159.5L975.2 172Z" fill="#000"/>
<text transform="translate(457.61,200.9) scale(1,1)" font-family="Liberation Sans, sans-serif" font-size="21.5" fill="#000">Δ</text>
<text transform="scale(1,1)" x="467.91 472.5 483.84 496.58 510.35" y="200.9" font-family="Liberation Sans, sans-serif" font-size="21.5" font-weight="bold" fill="#000">-25mV</text>
<text transform="translate(329.66,303.3) scale(1,1)" font-family="Liberation Sans, sans-serif" font-size="21.5" fill="#000">Δ</text>
<text transform="scale(1,1)" x="339.16 352.37 365.58 376.85" y="303.3" font-family="Liberation Sans, sans-serif" font-size="21.5" font-weight="bold" fill="#000">-4mV</text>
<path d="M348.3 303.3H351.5V288.5H348.3ZM348.6 288.5L348.6 292.1L346.5 294.9L346.5 291.8Z" fill="#000"/>
<text transform="translate(923.06,303.3) scale(1,1)" font-family="Liberation Sans, sans-serif" font-size="21.5" fill="#000">Δ</text>
<text transform="scale(1,1)" x="933.46 946.34 958.88 970.85" y="303.3" font-family="Liberation Sans, sans-serif" font-size="21.5" font-weight="bold" fill="#000">-5mV</text>
<path d="M943.3 303.3H946.5V288.5H943.3ZM943.6 288.5L943.6 292.1L941.5 294.9L941.5 291.8Z" fill="#000"/>
<text transform="translate(1040.61,226.3) scale(1,1)" font-family="Liberation Sans, sans-serif" font-size="21.5" fill="#000">Δ</text>
<text transform="scale(1,1)" x="1050.91 1061.54 1065.84 1079.58 1092.35" y="226.3" font-family="Liberation Sans, sans-serif" font-size="21.5" font-weight="bold" fill="#000">-.5mV</text>
<path d="M1059.3 226.3H1062.5V211.5H1059.3ZM1059.6 211.5L1059.6 215.1L1057.5 217.9L1057.5 214.8Z" fill="#000"/>
<rect x="246" y="479" width="145" height="30" fill="#fff"/>
<text transform="translate(0,507.5) scale(0.9,1)" y="0" x="274.44 316.11 340.56 352.78 384.44 405.56 419.44" font-family="Liberation Serif, serif" font-weight="bold" font-size="53" fill="#000" stroke="#000" stroke-width="0.6">WT/Null</text>
<text y="508" x="867 906 926.5 932.5 976" font-family="Liberation Serif, serif" font-weight="bold" font-size="44" fill="#000" stroke="#000" stroke-width="0.9">WT/WT</text>
<text transform="scale(1,1)" x="34.44 57.09" y="47.7" font-family="Liberation Serif, serif" font-size="32" font-weight="bold" fill="#000">A.</text>
<text transform="scale(1,1)" x="34.47 55.59" y="574.6" font-family="Liberation Serif, serif" font-size="32" font-weight="bold" fill="#000">B.</text>
<text transform="scale(1,1)" x="33.94 57.09" y="1141.2" font-family="Liberation Serif, serif" font-size="32" font-weight="bold" fill="#000">C.</text>
<path d="M226.5 590.45H1026.5M226.5 625.5H1026.5M226.5 660.55H1026.5M226.5 695.6H1026.5M226.5 730.65H1026.5M226.5 765.7H1026.5M226.5 800.75H1026.5M226.5 835.8H1026.5M226.5 870.85H1026.5M226.5 905.9H1026.5M226.5 940.95H1026.5" stroke="#b4b4b4" stroke-width="1" fill="none"/>
<path d="M226.5 555.4H1026.5 V976" stroke="#8c8c8c" stroke-width="1.2" fill="none"/>
<path d="M226.5 555.4V976" stroke="#808080" stroke-width="1.3" fill="none"/>
<path d="M219 555.4H226.5M219 590.45H226.5M219 625.5H226.5M219 660.55H226.5M219 695.6H226.5M219 730.65H226.5M219 765.7H226.5M219 800.75H226.5M219 835.8H226.5M219 870.85H226.5M219 905.9H226.5M219 940.95H226.5M219 976H226.5" stroke="#808080" stroke-width="1.2" fill="none"/>
<path d="M219 976H268M469 976H523M725 976H770M992.5 976H1026.5" stroke="#b4b4b4" stroke-width="1.4" fill="none"/>
<text transform="translate(192.44,563.2) scale(1.04,1)" font-family="Liberation Sans, sans-serif" font-size="25.8" fill="#000">8</text>
<text transform="translate(192.46,598.25) scale(1.04,1)" font-family="Liberation Sans, sans-serif" font-size="25.8" fill="#000">6</text>
<text transform="translate(192.06,633.3) scale(1.04,1)" font-family="Liberation Sans, sans-serif" font-size="25.8" fill="#000">4</text>
<text transform="translate(192.63,668.35) scale(1.04,1)" font-family="Liberation Sans, sans-serif" font-size="25.8" fill="#000">2</text>
<text transform="translate(192.33,703.4) scale(1.04,1)" font-family="Liberation Sans, sans-serif" font-size="25.8" fill="#000">0</text>
<text transform="translate(183.69,738.45) scale(1.04,1)" font-family="Liberation Sans, sans-serif" font-size="25.8" fill="#000">-2</text>
<text transform="translate(183.13,773.5) scale(1.04,1)" font-family="Liberation Sans, sans-serif" font-size="25.8" fill="#000">-4</text>
<text transform="translate(183.52,808.55) scale(1.04,1)" font-family="Liberation Sans, sans-serif" font-size="25.8" fill="#000">-6</text>
<text transform="translate(183.51,843.6) scale(1.04,1)" font-family="Liberation Sans, sans-serif" font-size="25.8" fill="#000">-8</text>
<text transform="translate(168.47,878.65) scale(1.04,1)" font-family="Liberation Sans, sans-serif" font-size="25.8" fill="#000">-10</text>
<text transform="translate(168.77,913.7) scale(1.04,1)" font-family="Liberation Sans, sans-serif" font-size="25.8" fill="#000">-12</text>
<text transform="translate(168.21,948.75) scale(1.04,1)" font-family="Liberation Sans, sans-serif" font-size="25.8" fill="#000">-14</text>
<text transform="translate(168.6,983.8) scale(1.04,1)" font-family="Liberation Sans, sans-serif" font-size="25.8" fill="#000">-16</text>
<rect x="282.5" y="695.6" width="77.5" height="185.9" fill="#9999ff" stroke="#000" stroke-width="1.9"/>
<path d="M321.5 881.5V902.5M313.5 902.5H329.5" stroke="#000" stroke-width="1.6" fill="none"/>
<rect x="360" y="695.6" width="78" height="42.9" fill="#993366" stroke="#000" stroke-width="1.9"/>
<path d="M399 738.5V743.5M391 743.5H407" stroke="#000" stroke-width="1.6" fill="none"/>
<rect x="550" y="695.6" width="77.5" height="183.4" fill="#9999ff" stroke="#000" stroke-width="1.9"/>
<path d="M589 879V884M581 884H597" stroke="#000" stroke-width="1.6" fill="none"/>
<rect x="627.5" y="695.6" width="75.5" height="75.4" fill="#993366" stroke="#000" stroke-width="1.9"/>
<path d="M665.5 771V778.5M657.5 778.5H673.5" stroke="#000" stroke-width="1.6" fill="none"/>
<rect x="815" y="590" width="77.5" height="105.6" fill="#9999ff" stroke="#000" stroke-width="1.9"/>
<path d="M854 590V601.5M846 601.5H862" stroke="#000" stroke-width="1.6" fill="none"/>
<rect x="892.5" y="686.5" width="77.5" height="9.1" fill="#993366" stroke="#000" stroke-width="1.9"/>
<path d="M931 686.5V693.5M923 693.5H939" stroke="#000" stroke-width="1.6" fill="none"/>
<text transform="scale(1,1)" x="310.99 343.21 364.2 371.64 406.21" y="973.9" font-family="Liberation Sans, sans-serif" font-size="24" fill="#000">WT/WT</text>
<text transform="scale(1,1)" x="563.64 596.46 616.8 626.53 651.24 670.68 678.38" y="973.9" font-family="Liberation Sans, sans-serif" font-size="24" fill="#000">WT/Null</text>
<text transform="scale(1,1)" x="817.13 841.44 861.28 868.48 876.5 886.43 910.74 929.48 937.08" y="971.6" font-family="Liberation Sans, sans-serif" font-size="24" fill="#000">Null/Null</text>
<rect x="1061.5" y="739" width="14.5" height="13.5" fill="#9999ff" stroke="#000018" stroke-width="1.8"/>
<rect x="1061.5" y="783.8" width="14.5" height="13.5" fill="#993366" stroke="#180008" stroke-width="1.8"/>
<text transform="translate(1085.12,753) scale(0.89,1)" font-family="Liberation Sans, sans-serif" font-size="27" fill="#000">Low&#160;&#160;Cl-</text>
<text transform="translate(1085.1,797.3) scale(1.01,1)" font-family="Liberation Sans, sans-serif" font-size="25.5" fill="#000">cAMP</text>
<text transform="translate(147.5,919.47) rotate(-90) scale(0.8,1)" font-family="Liberation Sans, sans-serif" font-weight="bold" font-size="27.5" letter-spacing="-3.44" fill="#000">Potential&#160;Difference&#160;(mV)</text>
<path d="M294.4 1089.1V1589" stroke="#000" stroke-width="1.5" fill="none"/>
<path d="M258.75 1098.5H294.4M258.75 1167.5H294.4M258.75 1236H294.4M258.75 1305H294.4M258.75 1373.5H294.4M258.75 1442.5H294.4M258.75 1516H294.4M258.75 1589H294.4" stroke="#000" stroke-width="1.3" fill="none"/>
<text transform="scale(1,1)" x="219.79 227.2 240.88" y="1103.4" font-family="Liberation Sans, sans-serif" font-size="16" fill="#000">-20</text>
<text transform="scale(1,1)" x="222.09 230.58 242.19" y="1172.5" font-family="Liberation Sans, sans-serif" font-size="16" fill="#000">-16</text>
<text transform="scale(1,1)" x="223.59 232.08 243.7" y="1243.1" font-family="Liberation Sans, sans-serif" font-size="16" fill="#000">-12</text>
<text transform="scale(1,1)" x="228.09 235.6" y="1311.4" font-family="Liberation Sans, sans-serif" font-size="16" fill="#000">-8</text>
<text transform="scale(1,1)" x="226.59 233.63" y="1380.5" font-family="Liberation Sans, sans-serif" font-size="16" fill="#000">-4</text>
<text transform="scale(1,1)" x="233.68" y="1446.5" font-family="Liberation Sans, sans-serif" font-size="16" fill="#000">0</text>
<text transform="scale(1,1)" x="220.52 233.63" y="1522.6" font-family="Liberation Sans, sans-serif" font-size="16" fill="#000">+4</text>
<text transform="scale(1,1)" x="220.52 233.9" y="1594.4" font-family="Liberation Sans, sans-serif" font-size="16" fill="#000">+8</text>
<path d="M969.7 1088.6V1589.3" stroke="#000" stroke-width="1.5" fill="none"/>
<path d="M969.7 1097.9H1005.5M969.7 1166.9H1005.5M969.7 1236.3H1005.5M969.7 1305H1005.5M969.7 1373.6H1005.5M969.7 1442.3H1005.5M969.7 1516.4H1005.5M969.7 1589H1005.5" stroke="#000" stroke-width="1.3" fill="none"/>
<text transform="scale(1,1)" x="1009.39 1017.58 1030.17" y="1100.7" font-family="Liberation Sans, sans-serif" font-size="16" fill="#000">-10</text>
<text transform="scale(1,1)" x="1016.99 1025" y="1169.7" font-family="Liberation Sans, sans-serif" font-size="16" fill="#000">-8</text>
<text transform="scale(1,1)" x="1017.09 1024.29" y="1239.4" font-family="Liberation Sans, sans-serif" font-size="16" fill="#000">-6</text>
<text transform="scale(1,1)" x="1018.69 1025.23" y="1309" font-family="Liberation Sans, sans-serif" font-size="16" fill="#000">-4</text>
<text transform="scale(1,1)" x="1016.39 1023.2" y="1377.5" font-family="Liberation Sans, sans-serif" font-size="16" fill="#000">-2</text>
<text transform="scale(1,1)" x="1024.08" y="1443.7" font-family="Liberation Sans, sans-serif" font-size="16" fill="#000">0</text>
<text transform="scale(1,1)" x="1011.82 1023.63" y="1520.2" font-family="Liberation Sans, sans-serif" font-size="16" fill="#000">+4</text>
<text transform="scale(1,1)" x="1011.82 1023.3" y="1591" font-family="Liberation Sans, sans-serif" font-size="16" fill="#000">+8</text>
<text transform="translate(199.2,1421.13) rotate(-90) scale(0.91,1)" font-family="Liberation Sans, sans-serif" font-size="20.5" fill="#000">Low&#160;Cl-&#160;Response&#160;(mV)</text>
<text transform="translate(1094.5,1449.71) rotate(-90) scale(0.86,1)" font-family="Liberation Sans, sans-serif" font-size="18.5" fill="#000">Response&#160;to&#160;Cyclic&#160;AMP&#160;Agonists&#160;(mV)</text>
<ellipse cx="331" cy="1200.1" rx="11.3" ry="7.9" fill="#b7dde0" stroke="#1c2222" stroke-width="1.5"/>
<ellipse cx="329.5" cy="1248" rx="11.3" ry="7.9" fill="#b7dde0" stroke="#1c2222" stroke-width="1.5"/>
<ellipse cx="341.8" cy="1248.7" rx="11.3" ry="7.9" fill="#b7dde0" stroke="#1c2222" stroke-width="1.5"/>
<ellipse cx="331" cy="1255.2" rx="11.3" ry="7.9" fill="#b7dde0" stroke="#1c2222" stroke-width="1.5"/>
<ellipse cx="330.5" cy="1277.5" rx="11.3" ry="7.9" fill="#b7dde0" stroke="#1c2222" stroke-width="1.5"/>
<ellipse cx="327.4" cy="1317.1" rx="11.3" ry="7.9" fill="#b7dde0" stroke="#1c2222" stroke-width="1.5"/>
<ellipse cx="329.5" cy="1304.9" rx="11.3" ry="7.9" fill="#b7dde0" stroke="#1c2222" stroke-width="1.5"/>
<ellipse cx="342" cy="1317.1" rx="11.3" ry="7.9" fill="#b7dde0" stroke="#1c2222" stroke-width="1.5"/>
<path d="M366.7 1252.3L366.7 1292.6" stroke="#1c2222" stroke-width="1.6"/>
<ellipse cx="366.7" cy="1271.8" rx="11.3" ry="7.9" fill="#b7dde0" stroke="#1c2222" stroke-width="1.5"/>
<ellipse cx="407" cy="1167" rx="11.3" ry="7.9" fill="#ffff00" stroke="#1c2222" stroke-width="1.5"/>
<ellipse cx="407.3" cy="1201.2" rx="11.3" ry="7.9" fill="#ffff00" stroke="#1c2222" stroke-width="1.5"/>
<ellipse cx="419.6" cy="1202.2" rx="11.3" ry="7.9" fill="#ffff00" stroke="#1c2222" stroke-width="1.5"/>
<ellipse cx="406.6" cy="1338.8" rx="11.3" ry="7.9" fill="#ffff00" stroke="#1c2222" stroke-width="1.5"/>
<ellipse cx="418.4" cy="1338" rx="11.3" ry="7.9" fill="#ffff00" stroke="#1c2222" stroke-width="1.5"/>
<ellipse cx="432.9" cy="1339.5" rx="11.3" ry="7.9" fill="#ffff00" stroke="#1c2222" stroke-width="1.5"/>
<ellipse cx="406.6" cy="1355.3" rx="11.3" ry="7.9" fill="#ffff00" stroke="#1c2222" stroke-width="1.5"/>
<ellipse cx="407.8" cy="1371.6" rx="11.3" ry="7.9" fill="#ffff00" stroke="#1c2222" stroke-width="1.5"/>
<path d="M439.5 1258L442.5 1305.6" stroke="#1c2222" stroke-width="1.6"/>
<ellipse cx="441.6" cy="1281.1" rx="11.3" ry="7.9" fill="#ffff00" stroke="#1c2222" stroke-width="1.5"/>
<ellipse cx="558.8" cy="1168" rx="11.3" ry="7.9" fill="#b7dde0" stroke="#1c2222" stroke-width="1.5"/>
<ellipse cx="557.5" cy="1200.2" rx="11.3" ry="7.9" fill="#b7dde0" stroke="#1c2222" stroke-width="1.5"/>
<ellipse cx="557" cy="1268.5" rx="11.3" ry="7.9" fill="#b7dde0" stroke="#1c2222" stroke-width="1.5"/>
<ellipse cx="570.5" cy="1267.75" rx="11.3" ry="7.9" fill="#b7dde0" stroke="#1c2222" stroke-width="1.5"/>
<ellipse cx="554.7" cy="1259.8" rx="11.3" ry="7.9" fill="#b7dde0" stroke="#1c2222" stroke-width="1.5"/>
<ellipse cx="570.8" cy="1260.7" rx="11.3" ry="7.9" fill="#b7dde0" stroke="#1c2222" stroke-width="1.5"/>
<ellipse cx="555.5" cy="1277" rx="11.3" ry="7.9" fill="#b7dde0" stroke="#1c2222" stroke-width="1.5"/>
<ellipse cx="569.3" cy="1305.2" rx="11.3" ry="7.9" fill="#b7dde0" stroke="#1c2222" stroke-width="1.5"/>
<ellipse cx="555" cy="1306" rx="11.3" ry="7.9" fill="#b7dde0" stroke="#1c2222" stroke-width="1.5"/>
<ellipse cx="555.2" cy="1321" rx="11.3" ry="7.9" fill="#b7dde0" stroke="#1c2222" stroke-width="1.5"/>
<ellipse cx="556.25" cy="1337.2" rx="11.3" ry="7.9" fill="#b7dde0" stroke="#1c2222" stroke-width="1.5"/>
<ellipse cx="554.75" cy="1365.7" rx="11.3" ry="7.9" fill="#b7dde0" stroke="#1c2222" stroke-width="1.5"/>
<path d="M600.5 1259.5L600.5 1300" stroke="#1c2222" stroke-width="1.6"/>
<ellipse cx="600.5" cy="1279" rx="11.3" ry="7.9" fill="#b7dde0" stroke="#1c2222" stroke-width="1.5"/>
<ellipse cx="651.2" cy="1165.75" rx="11.3" ry="7.9" fill="#ffff00" stroke="#1c2222" stroke-width="1.5"/>
<ellipse cx="651.2" cy="1248.7" rx="11.3" ry="7.9" fill="#ffff00" stroke="#1c2222" stroke-width="1.5"/>
<ellipse cx="651.5" cy="1269.5" rx="11.3" ry="7.9" fill="#ffff00" stroke="#1c2222" stroke-width="1.5"/>
<ellipse cx="661.7" cy="1269.5" rx="11.3" ry="7.9" fill="#ffff00" stroke="#1c2222" stroke-width="1.5"/>
<ellipse cx="650" cy="1303.3" rx="11.3" ry="7.9" fill="#ffff00" stroke="#1c2222" stroke-width="1.5"/>
<ellipse cx="662.3" cy="1303.3" rx="11.3" ry="7.9" fill="#ffff00" stroke="#1c2222" stroke-width="1.5"/>
<ellipse cx="652.7" cy="1342.75" rx="11.3" ry="7.9" fill="#ffff00" stroke="#1c2222" stroke-width="1.5"/>
<ellipse cx="650.75" cy="1359" rx="11.3" ry="7.9" fill="#ffff00" stroke="#1c2222" stroke-width="1.5"/>
<ellipse cx="662.3" cy="1358.5" rx="11.3" ry="7.9" fill="#ffff00" stroke="#1c2222" stroke-width="1.5"/>
<ellipse cx="679.25" cy="1359.5" rx="11.3" ry="7.9" fill="#ffff00" stroke="#1c2222" stroke-width="1.5"/>
<ellipse cx="651.8" cy="1373.5" rx="11.3" ry="7.9" fill="#ffff00" stroke="#1c2222" stroke-width="1.5"/>
<ellipse cx="665.75" cy="1373.5" rx="11.3" ry="7.9" fill="#ffff00" stroke="#1c2222" stroke-width="1.5"/>
<path d="M689.3 1290.25L689.3 1330.75" stroke="#1c2222" stroke-width="1.6"/>
<ellipse cx="691.25" cy="1310.2" rx="11.3" ry="7.9" fill="#ffff00" stroke="#1c2222" stroke-width="1.5"/>
<ellipse cx="792" cy="1457.5" rx="11.3" ry="7.9" fill="#b7dde0" stroke="#1c2222" stroke-width="1.5"/>
<ellipse cx="792.7" cy="1531" rx="11.3" ry="7.9" fill="#b7dde0" stroke="#1c2222" stroke-width="1.5"/>
<ellipse cx="793.75" cy="1551.5" rx="11.3" ry="7.9" fill="#b7dde0" stroke="#1c2222" stroke-width="1.5"/>
<ellipse cx="792.7" cy="1562.2" rx="11.3" ry="7.9" fill="#b7dde0" stroke="#1c2222" stroke-width="1.5"/>
<ellipse cx="793.75" cy="1573.3" rx="11.3" ry="7.9" fill="#b7dde0" stroke="#1c2222" stroke-width="1.5"/>
<path d="M827.2 1506.7L827.2 1557.7" stroke="#1c2222" stroke-width="1.6"/>
<ellipse cx="827.2" cy="1534" rx="11.3" ry="7.9" fill="#b7dde0" stroke="#1c2222" stroke-width="1.5"/>
<ellipse cx="877.3" cy="1441.5" rx="11.3" ry="7.9" fill="#ffff00" stroke="#1c2222" stroke-width="1.5"/>
<ellipse cx="876.7" cy="1455.5" rx="11.3" ry="7.9" fill="#ffff00" stroke="#1c2222" stroke-width="1.5"/>
<ellipse cx="877.3" cy="1469.8" rx="11.3" ry="7.9" fill="#ffff00" stroke="#1c2222" stroke-width="1.5"/>
<ellipse cx="877.3" cy="1484.2" rx="11.3" ry="7.9" fill="#ffff00" stroke="#1c2222" stroke-width="1.5"/>
<ellipse cx="878.5" cy="1573" rx="11.3" ry="7.9" fill="#ffff00" stroke="#1c2222" stroke-width="1.5"/>
<path d="M905.8 1467.25L906.7 1514.2" stroke="#1c2222" stroke-width="1.6"/>
<ellipse cx="906.7" cy="1489.75" rx="11.3" ry="7.9" fill="#ffff00" stroke="#1c2222" stroke-width="1.5"/>
<ellipse cx="192.2" cy="1195.1" rx="11.3" ry="7.9" fill="#b7dde0" stroke="#1c2222" stroke-width="1.5"/>
<ellipse cx="1088.8" cy="1477.7" rx="11.3" ry="7.9" fill="#ffff00" stroke="#1c2222" stroke-width="1.5"/>
<text transform="scale(1,1)" x="363.63 383.53 393.23" y="1628" font-family="Liberation Sans, sans-serif" font-size="23" font-weight="bold" fill="#000">+/+</text>
<text transform="scale(1,1)" x="596.03 615.78 626.1" y="1628" font-family="Liberation Sans, sans-serif" font-size="23" font-weight="bold" fill="#000">+/-</text>
<text transform="scale(1,1)" x="830.35 840.78 851.1" y="1628.5" font-family="Liberation Sans, sans-serif" font-size="23" font-weight="bold" fill="#000">-/-</text>
</svg>
</body></html>
